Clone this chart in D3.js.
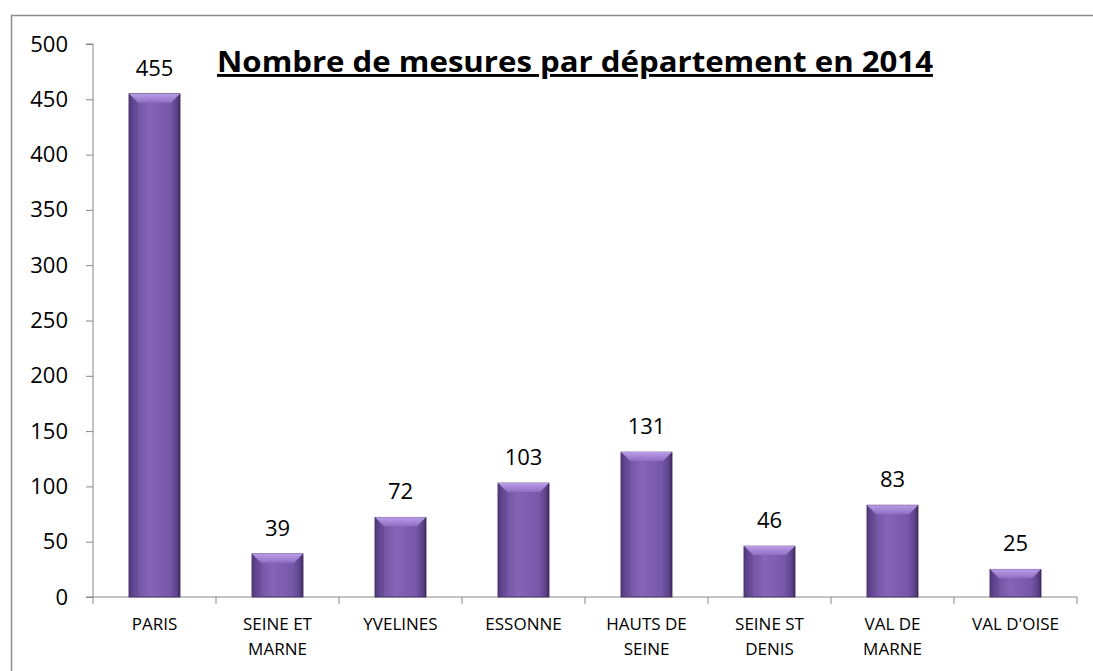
<!DOCTYPE html>
<html>
<head>
<meta charset="utf-8">
<script src="https://cdn.jsdelivr.net/npm/d3@7"></script>
<style>
  body { margin: 0; background: #fff; }
  svg { display: block; }
  .axis text { font-family: "Open Sans", sans-serif; fill: #000; }
  .axis line, .axis path { stroke: #888; }
</style>
</head>
<body>
<svg id="svg" width="1093" height="671"></svg>
<script>
const departements = ['PARIS', 'SEINE ET|MARNE', 'YVELINES', 'ESSONNE', 'HAUTS DE|SEINE', 'SEINE ST|DENIS', 'VAL DE|MARNE', "VAL D'OISE"];
const mesures = [455, 39, 72, 103, 131, 46, 83, 25];
const yTicks = [0, 50, 100, 150, 200, 250, 300, 350, 400, 450, 500];
const titre = 'Nombre de mesures par département en 2014';

const svg = d3.select('#svg');

// outer chart border
svg.append('rect')
  .attr('x', 11.5).attr('y', 15.5)
  .attr('width', 1100).attr('height', 700)
  .attr('fill', 'none')
  .attr('stroke', '#8c8c8c')
  .attr('stroke-width', 1.5);

const plot = { left: 93, right: 1077, top: 44, bottom: 597 };

const xScale = d3.scaleBand()
  .domain(departements)
  .range([plot.left, plot.right])
  .paddingInner(0.585)
  .paddingOuter(0.2925);

const yScale = d3.scaleLinear()
  .domain([0, 500])
  .range([plot.bottom, plot.top]);

// gradients for bar look
const defs = svg.append('defs');
const grad = defs.append('linearGradient').attr('id', 'barGrad')
  .attr('x1', 0).attr('x2', 1).attr('y1', 0).attr('y2', 0);
grad.append('stop').attr('offset', '0%').attr('stop-color', '#4e3676');
grad.append('stop').attr('offset', '12%').attr('stop-color', '#7052a0');
grad.append('stop').attr('offset', '40%').attr('stop-color', '#8565b6');
grad.append('stop').attr('offset', '80%').attr('stop-color', '#7757a8');
grad.append('stop').attr('offset', '94%').attr('stop-color', '#5c4288');
grad.append('stop').attr('offset', '100%').attr('stop-color', '#3e2a5e');

const topGrad = defs.append('linearGradient').attr('id', 'topGrad')
  .attr('x1', 0).attr('x2', 0).attr('y1', 0).attr('y2', 1);
topGrad.append('stop').attr('offset', '0%').attr('stop-color', '#bb9ce8');
topGrad.append('stop').attr('offset', '100%').attr('stop-color', '#8e6ec2');

// y axis
const yAxis = d3.axisLeft(yScale).tickValues(yTicks).tickSize(7).tickPadding(18);
const yAxisG = svg.append('g')
  .attr('class', 'axis y-axis')
  .attr('transform', `translate(${plot.left},0)`)
  .call(yAxis);
yAxisG.select('path.domain').attr('d', `M-7,${plot.top}H0V${plot.bottom}`);
yAxisG.selectAll('text').style('font-size', '22px');

// x axis
const xAxis = d3.axisBottom(xScale).tickSize(0).tickFormat('');
const xAxisG = svg.append('g')
  .attr('class', 'axis x-axis')
  .attr('transform', `translate(0,${plot.bottom})`)
  .call(xAxis);
xAxisG.select('path.domain').attr('d', `M${plot.left - 7},0H${plot.right}V7`);
const gap = (xScale.step() - xScale.bandwidth()) / 2;
xAxisG.selectAll('.sep')
  .data(departements)
  .join('line')
  .attr('class', 'sep')
  .attr('x1', d => xScale(d) - gap)
  .attr('x2', d => xScale(d) - gap)
  .attr('y1', 0).attr('y2', 7)
  .attr('stroke', '#888');

xAxisG.selectAll('.cat')
  .data(departements)
  .join('text')
  .attr('class', 'cat')
  .attr('text-anchor', 'middle')
  .style('font-size', '17px')
  .attr('transform', d => `translate(${xScale(d) + xScale.bandwidth() / 2},0)`)
  .each(function(d) {
    const lines = d.split('|');
    d3.select(this).selectAll('tspan')
      .data(lines)
      .join('tspan')
      .attr('x', 0)
      .attr('y', (l, i) => 33 + i * 25)
      .text(l => l);
  });

// bars
const bars = svg.append('g').selectAll('g.bar')
  .data(departements.map((d, i) => ({ dep: d, v: mesures[i] })))
  .join('g')
  .attr('class', 'bar');

bars.append('rect')
  .attr('x', d => xScale(d.dep))
  .attr('y', d => yScale(d.v))
  .attr('width', xScale.bandwidth())
  .attr('height', d => yScale(0) - yScale(d.v))
  .attr('fill', 'url(#barGrad)')
  .attr('stroke', '#3e2a5e')
  .attr('stroke-width', 0.8);

const bevel = 9;
bars.append('path')
  .attr('d', d => {
    const x0 = xScale(d.dep), x1 = x0 + xScale.bandwidth(), y0 = yScale(d.v);
    return `M${x0},${y0}H${x1}L${x1 - bevel},${y0 + bevel}H${x0 + bevel}Z`;
  })
  .attr('fill', 'url(#topGrad)');

bars.append('path')
  .attr('d', d => {
    const x0 = xScale(d.dep), x1 = x0 + xScale.bandwidth(), y0 = yScale(d.v);
    return `M${x0},${y0}L${x0 + bevel},${y0 + bevel}V${yScale(0)}H${x0}Z`;
  })
  .attr('fill', '#5a3f86')
  .attr('opacity', 0.35);

bars.append('text')
  .attr('x', d => xScale(d.dep) + xScale.bandwidth() / 2)
  .attr('y', d => yScale(d.v) - 18)
  .attr('text-anchor', 'middle')
  .style('font-family', '"Open Sans", sans-serif')
  .style('font-size', '22px')
  .text(d => d.v);

// title
svg.append('text')
  .attr('x', 217)
  .attr('y', 72)
  .attr('textLength', 716)
  .attr('lengthAdjust', 'spacingAndGlyphs')
  .style('font-family', '"Open Sans", sans-serif')
  .style('font-weight', 700)
  .style('font-size', '29px')
  .style('text-decoration', 'underline')
  .text(titre);
</script>
</body>
</html>
